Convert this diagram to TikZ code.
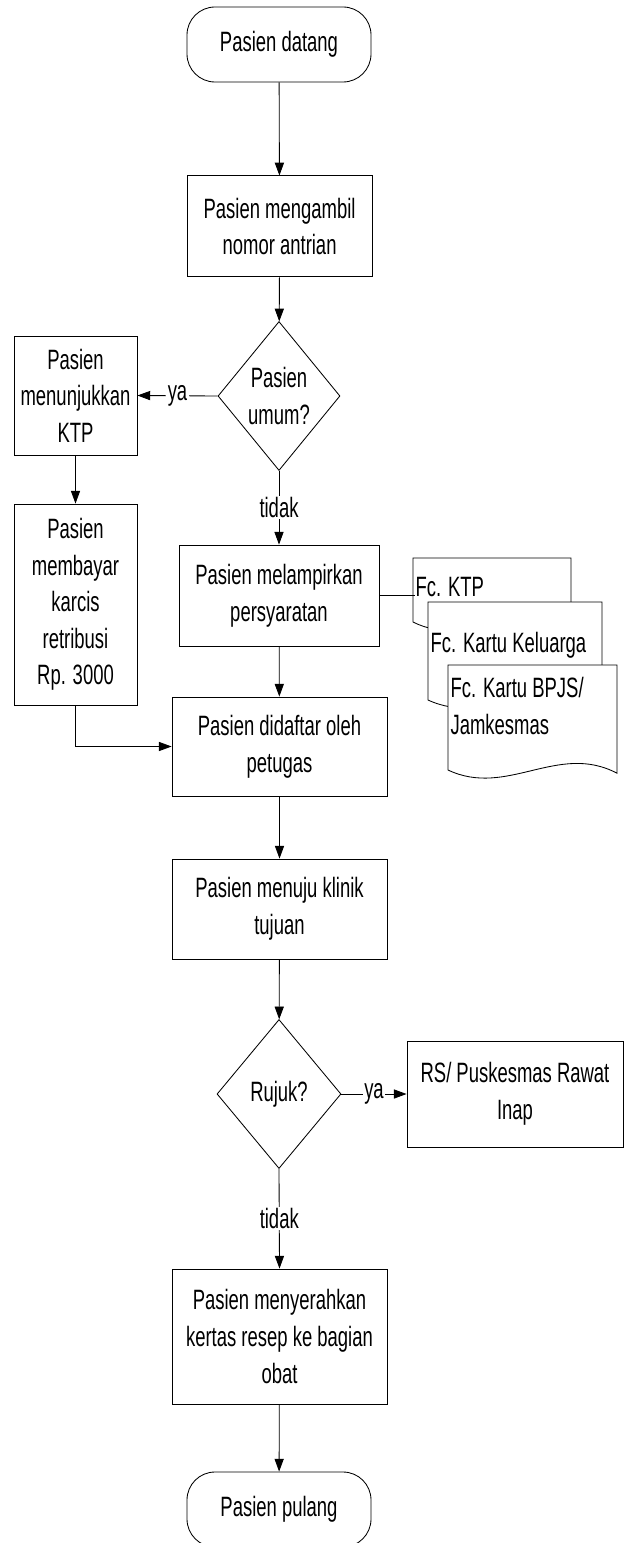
\documentclass[tikz,border=0pt]{standalone}
\usepackage{fontspec}
\setmainfont{Liberation Sans}[FakeStretch=0.66]
\usetikzlibrary{arrows.meta,shapes.geometric}
\newcommand{\teks}{\fontsize{19.9}{26}\selectfont}
% lembar dokumen: nama, kiri, atas, lebar, bawah, turun teks, teks
\newcommand{\berkas}[7]{%
  \filldraw[doc] (#2,#3) -- ({#2+#4},#3) -- ({#2+#4},{#5-0.08})
    .. controls ({#2+0.65*#4},{#5+0.7}) and ({#2+0.35*#4},{#5-0.7}) .. (#2,#5) -- cycle;
  \node[doctext] (#1) at ({#2+0.04},{#3-#6}) {#7};}

\begin{document}
\begin{tikzpicture}[>=Triangle,
  proses/.style={draw,line width=0.6pt,align=center,inner sep=2pt,font=\teks},
  terminal/.style={proses,rounded corners=0.7cm,minimum width=4.6cm,minimum height=1.875cm},
  keputusan/.style={proses,diamond,shape aspect=0.82,inner sep=0pt},
  doc/.style={draw,fill=white,line width=0.6pt},
  doctext/.style={anchor=west,align=left,inner sep=0.5pt,font=\teks},
  panah/.style={-{Triangle[length=3.2mm,width=2.3mm]},line width=0.6pt},
  ket/.style={fill=white,inner sep=1pt,font=\teks}]
\useasboundingbox (0,0) rectangle (15.7,-38.575);
\node[terminal] (mulai) at (6.975,-1.1125) {Pasien datang};
\node[proses,minimum width=4.625cm,minimum height=2.525cm] (ambil) at (6.99,-5.66) {Pasien mengambil\\nomor antrian};
\node[keputusan,minimum width=3.05cm,minimum height=3.725cm] (umum) at (6.975,-9.9) {Pasien\\umum?};
\node[proses,minimum width=3.075cm,minimum height=2.975cm] (ktp) at (1.8875,-9.8875) {Pasien\\menunjukkan\\KTP};
\node[proses,minimum width=3.075cm,minimum height=5.025cm] (bayar) at (1.8875,-15.1125) {Pasien\\membayar\\karcis\\retribusi\\Rp. 3000};
\node[proses,minimum width=5cm,minimum height=2.525cm] (lampir) at (6.975,-14.8875) {Pasien melampirkan\\persyaratan};
\node[proses,minimum width=5.375cm,minimum height=2.475cm] (daftar) at (6.9875,-18.6625) {Pasien didaftar oleh\\petugas};
\node[proses,minimum width=5.375cm,minimum height=2.5cm] (klinik) at (6.9875,-22.725) {Pasien menuju klinik\\tujuan};
\node[keputusan,minimum width=3.1cm,minimum height=3.725cm] (rujuk) at (6.975,-27.35) {Rujuk?};
\node[proses,minimum width=5.4cm,minimum height=2.65cm] (rs) at (12.875,-27.35) {RS/ Puskesmas Rawat\\Inap};
\node[proses,minimum width=5.375cm,minimum height=3.375cm] (serah) at (6.9875,-33.4125) {Pasien menyerahkan\\kertas resep ke bagian\\obat};
\node[terminal] (selesai) at (6.975,-37.7375) {Pasien pulang};
% berkas persyaratan
\berkas{fcktp}{10.325}{-13.95}{3.95}{-15.55}{0.725}{Fc. KTP}
\berkas{fckk}{10.7}{-15.05}{4.35}{-17.5}{1.075}{Fc. Kartu Keluarga}
\berkas{fcbpjs}{11.2}{-16.625}{4.225}{-19.25}{1.025}{Fc. Kartu BPJS/\\Jamkesmas}
% alur
\draw[panah] (mulai)--(ambil);
\draw[panah] (ambil)--(umum);
\draw[panah] (umum.west)--node[ket]{ya}(ktp.east);
\draw[panah] (umum.south)--node[ket]{tidak}(lampir.north);
\draw[panah] (ktp)--(bayar);
\draw[panah] (bayar.south)|-(daftar.west);
\draw[line width=0.6pt] (lampir.east)--(lampir.east-|fcktp.west);
\draw[panah] (lampir)--(daftar);
\draw[panah] (daftar)--(klinik);
\draw[panah] (klinik)--(rujuk);
\draw[panah] (rujuk.east)--node[ket]{ya}(rs.west);
\draw[panah] (rujuk.south)--node[ket]{tidak}(serah.north);
\draw[panah] (serah)--(selesai);
\end{tikzpicture}
\end{document}
